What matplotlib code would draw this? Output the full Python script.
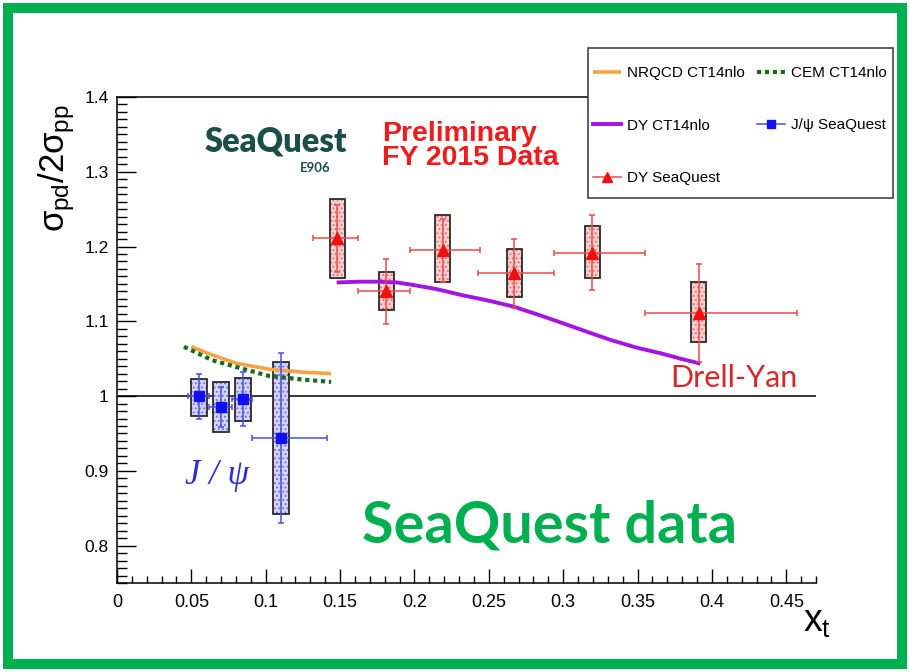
import matplotlib
matplotlib.use("Agg")
import matplotlib.pyplot as plt
from matplotlib.patches import Rectangle
from matplotlib.lines import Line2D
from matplotlib.ticker import MultipleLocator, FuncFormatter
import numpy as np

plt.rcParams['font.family'] = ['Liberation Sans', 'DejaVu Sans']
plt.rcParams['mathtext.fontset'] = 'custom'
plt.rcParams['mathtext.rm'] = 'Liberation Sans'
plt.rcParams['mathtext.it'] = 'Liberation Sans'
plt.rcParams['mathtext.bf'] = 'Liberation Sans:bold'
plt.rcParams['hatch.linewidth'] = 0.8

# ---- J/psi ratio (SeaQuest) ----
jpsi_x = [0.055, 0.070, 0.085, 0.110]
jpsi_xlo = [0.048, 0.062, 0.077, 0.0905]
jpsi_xhi = [0.062, 0.077, 0.0905, 0.141]
jpsi_y = [1.000, 0.985, 0.996, 0.944]
jpsi_stat = [0.030, 0.027, 0.036, 0.114]
jpsi_sys_lo = [0.973, 0.952, 0.966, 0.842]
jpsi_sys_hi = [1.023, 1.019, 1.024, 1.046]

# ---- Drell-Yan ratio (SeaQuest) ----
dy_x = [0.148, 0.181, 0.219, 0.267, 0.3195, 0.391]
dy_xlo = [0.132, 0.162, 0.197, 0.243, 0.294, 0.355]
dy_xhi = [0.162, 0.197, 0.244, 0.294, 0.355, 0.457]
dy_y = [1.211, 1.140, 1.195, 1.164, 1.192, 1.111]
dy_stat = [0.045, 0.043, 0.042, 0.046, 0.050, 0.065]
dy_sys_lo = [1.158, 1.115, 1.152, 1.133, 1.158, 1.072]
dy_sys_hi = [1.264, 1.166, 1.242, 1.197, 1.227, 1.153]

# ---- Theory curves ----
nrqcd_x = [0.050, 0.064, 0.080, 0.102, 0.125, 0.144]
nrqcd_y = [1.066, 1.055, 1.044, 1.036, 1.032, 1.030]
cem_x = [0.045, 0.064, 0.080, 0.102, 0.125, 0.144]
cem_y = [1.066, 1.048, 1.039, 1.027, 1.022, 1.019]
dyth_x = [0.149, 0.162, 0.176, 0.188, 0.198, 0.215, 0.232, 0.249, 0.266,
          0.283, 0.299, 0.316, 0.332, 0.349, 0.366, 0.379, 0.391]
dyth_y = [1.152, 1.153, 1.153, 1.152, 1.149, 1.143, 1.135, 1.128, 1.120,
          1.109, 1.098, 1.086, 1.075, 1.065, 1.057, 1.050, 1.044]

col1_labels = ["NRQCD CT14nlo", "DY CT14nlo", "DY SeaQuest"]
col2_labels = ["CEM CT14nlo", "J/\u03c8 SeaQuest"]

W, H = 910, 672


def fx(px):
    return px / W


def fy(py):
    return 1 - py / H


fig = plt.figure(figsize=(W / 100, H / 100), dpi=100)
ax = fig.add_axes([fx(117), fy(583), fx(816) - fx(117), fy(97) - fy(583)])
ax.set_xlim(0, 0.47)
ax.set_ylim(0.75, 1.4)


def sys_boxes(xs, lo, hi, hw, face, dots):
    for x, a, b in zip(xs, lo, hi):
        ax.add_patch(Rectangle((x - hw, a), 2 * hw, b - a, facecolor=face,
                               edgecolor=dots, hatch='....', lw=0, zorder=3))
        ax.add_patch(Rectangle((x - hw, a), 2 * hw, b - a, fill=False,
                               edgecolor='#2a2a2a', lw=1.3, zorder=4))


sys_boxes(jpsi_x, jpsi_sys_lo, jpsi_sys_hi, 0.0054, '#d4d4f6', '#6a6ae8')
sys_boxes(dy_x, dy_sys_lo, dy_sys_hi, 0.0050, '#f8d0d0', '#e86a6a')

ax.axhline(1.0, color='black', lw=1.1, zorder=2)

nrqcd_line, = ax.plot(nrqcd_x, nrqcd_y, color='#f5a444', lw=2.6, zorder=5,
                      solid_capstyle='butt')
cem_line, = ax.plot(cem_x, cem_y, color='#1c6a1c', lw=3.0, zorder=5,
                    linestyle=(0, (1.0, 0.9)))
dy_line, = ax.plot(dyth_x, dyth_y, color='#a414e4', lw=2.8, zorder=5,
                   solid_joinstyle='round')

jx = np.array(jpsi_x)
ax.errorbar(jx, jpsi_y, xerr=[jx - np.array(jpsi_xlo), np.array(jpsi_xhi) - jx],
            yerr=jpsi_stat, fmt='s', color='#1010f0', ecolor='#4a4aee', ms=7,
            elinewidth=1.1, capsize=2.5, capthick=1.1, zorder=6)
dx = np.array(dy_x)
ax.errorbar(dx, dy_y, xerr=[dx - np.array(dy_xlo), np.array(dy_xhi) - dx],
            yerr=dy_stat, fmt='^', color='#f01010', ecolor='#ee4a4a', ms=8,
            elinewidth=1.1, capsize=2.5, capthick=1.1, zorder=6)

# axes styling
fmt = FuncFormatter(lambda v, p: '%g' % round(v, 3))
ax.xaxis.set_major_locator(MultipleLocator(0.05))
ax.xaxis.set_minor_locator(MultipleLocator(0.01))
ax.yaxis.set_major_locator(MultipleLocator(0.1))
ax.yaxis.set_minor_locator(MultipleLocator(0.01))
ax.xaxis.set_major_formatter(fmt)
ax.yaxis.set_major_formatter(fmt)
ax.tick_params(axis='x', which='major', direction='in', length=10, width=1,
               labelsize=13, pad=8, top=False)
ax.tick_params(axis='x', which='minor', direction='in', length=5, width=1,
               top=False)
ax.tick_params(axis='y', which='major', direction='in', length=14, width=1,
               labelsize=12.5, pad=6, right=False)
ax.tick_params(axis='y', which='minor', direction='in', length=7, width=1,
               right=False)
for s in ax.spines.values():
    s.set_linewidth(1.1)
ax.spines['right'].set_visible(False)

fig.text(fx(57), fy(168), r'$\sigma_{pd}/2\sigma_{pp}$', rotation=90,
         fontsize=25, ha='center', va='center')
fig.text(fx(803), fy(632), r'$x_{t}$', fontsize=27, ha='left',
         va='baseline')

# annotations
fig.text(fx(205), fy(151), 'SeaQuest', family='Lato', weight='heavy',
         fontsize=23.5, color='#1d4f49', ha='left', va='baseline')
fig.text(fx(300), fy(172), 'E906', family='Lato', weight='bold',
         fontsize=9.5, color='#1d4f49', ha='left', va='baseline')
fig.text(fx(382), fy(141), 'Preliminary', weight='bold', fontsize=20.5,
         color='#ee1c1c', ha='left', va='baseline')
fig.text(fx(382), fy(165), 'FY 2015 Data', weight='bold', fontsize=20.5,
         color='#ee1c1c', ha='left', va='baseline')
fig.text(fx(670), fy(387), 'Drell-Yan', family='Lato', fontsize=22,
         color='#d9262b', ha='left', va='baseline')
fig.text(fx(185), fy(484), 'J / \u03c8', family='Liberation Serif',
         style='italic', fontsize=25, color='#2d2dd6', ha='left',
         va='baseline')
fig.text(fx(362), fy(543), 'SeaQuest data', family='Lato', weight='bold',
         fontsize=41.5, color='#00b050', ha='left', va='baseline')

# legend: framed box with two columns of entries
fig.patches.append(Rectangle((fx(588), fy(198)), fx(893) - fx(588),
                             fy(48) - fy(198), transform=fig.transFigure,
                             facecolor='white', edgecolor='#444444', lw=1.2,
                             zorder=4))
dy_proxy = Line2D([], [], color='#ee4a4a', lw=1.1, marker='^',
                  markerfacecolor='#f01010', markeredgecolor='#f01010', ms=7)
jpsi_proxy = Line2D([], [], color='#4a4aee', lw=1.1, marker='s',
                    markerfacecolor='#1010f0', markeredgecolor='#1010f0', ms=6)
leg_kw = dict(loc='upper left', fontsize=11, frameon=False, borderpad=0,
              borderaxespad=0, handlelength=1.8, handletextpad=0.4,
              labelspacing=2.52)
leg1 = fig.legend([nrqcd_line, dy_line, dy_proxy], col1_labels,
                  bbox_to_anchor=(fx(593), fy(66)), **leg_kw)
leg2 = fig.legend([cem_line, jpsi_proxy], col2_labels,
                  bbox_to_anchor=(fx(757), fy(66)), **leg_kw)
leg1.set_zorder(6)
leg2.set_zorder(6)

# outer frame
fig.patches.append(Rectangle((fx(8), fy(664)), fx(902) - fx(8),
                             fy(8) - fy(664), transform=fig.transFigure,
                             fill=False, edgecolor='#00b050', lw=7.2,
                             joinstyle='miter', zorder=7))

fig.savefig('out.png', dpi=100)
